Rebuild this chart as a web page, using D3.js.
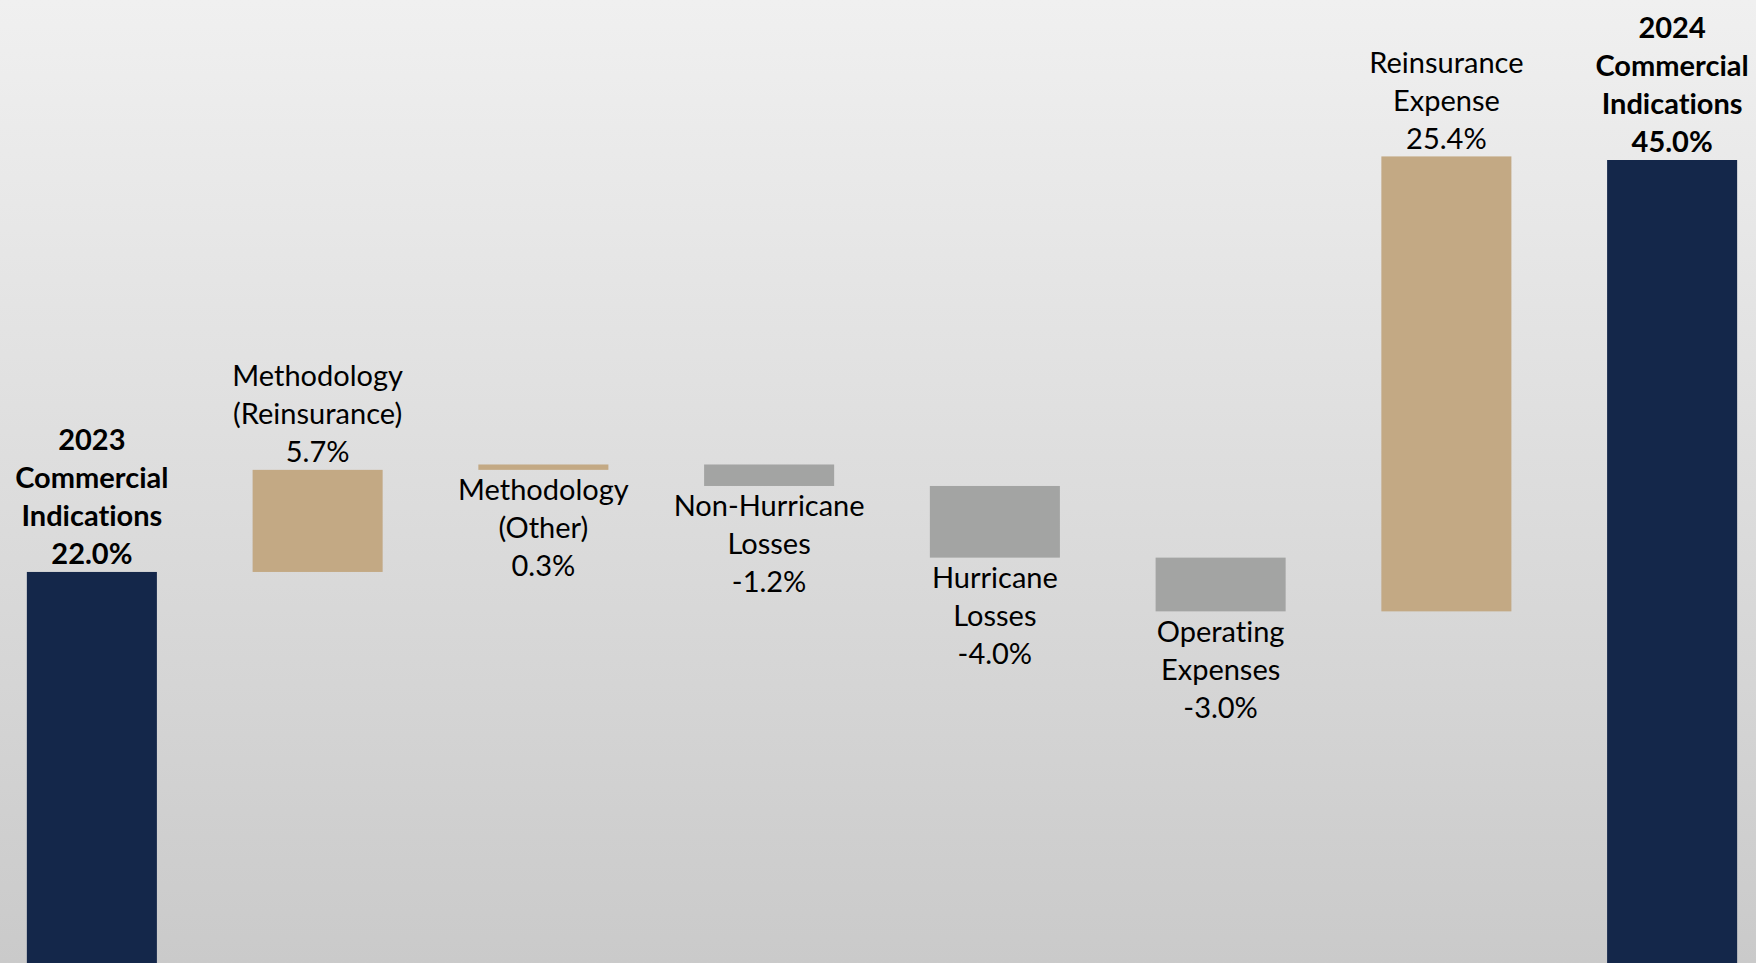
<!DOCTYPE html>
<html>
	<head>
		<meta charset="utf-8">
		<title>Commercial Indications Waterfall</title>
		<style>
			html, body { margin: 0; padding: 0; overflow: hidden; }
			#chart text { font-family: Lato, "Open Sans", sans-serif; fill: #000; font-variant-ligatures: none; }
		</style>
		<script src="https://cdn.jsdelivr.net/npm/d3@7"></script>
	</head>
	<body>
		<svg id="chart"></svg>
		<script>
		// chart data
		var categories = ["2023", "methReins", "methOther", "nonHurr", "hurr", "opExp", "reinsExp", "2024"];
		var labels = [
			["2023", "Commercial", "Indications"],
			["Methodology", "(Reinsurance)"],
			["Methodology", "(Other)"],
			["Non-Hurricane", "Losses"],
			["Hurricane", "Losses"],
			["Operating", "Expenses"],
			["Reinsurance", "Expense"],
			["2024", "Commercial", "Indications"]
		];
		var values = [22.0, 5.7, 0.3, -1.2, -4.0, -3.0, 25.4, 45.0];
		var kinds = ["total", "step", "step", "step", "step", "step", "step", "total"];

		var width = 1756, height = 963;
		var colors = { total: "#14274a", up: "#c3a984", down: "#a3a4a3" };

		// running totals for the waterfall
		var run = 0;
		var bars = values.map(function(v, i){
			var d = { key: categories[i], value: v, kind: kinds[i], lines: labels[i] };
			if (d.kind === "total") { d.y0 = 0; d.y1 = v; run = v; }
			else { d.y0 = run; d.y1 = run + v; run = d.y1; }
			return d;
		});

		var x = d3.scaleBand()
			.domain(categories)
			.range([-21, 1785])
			.paddingInner(0.424)
			.paddingOuter(0.212);

		var y = d3.scaleLinear()
			.domain([0, 45])
			.range([966, 160]);

		var svg = d3.select("#chart")
			.attr("width", width)
			.attr("height", height);

		// background gradient
		var grad = svg.append("defs").append("linearGradient")
			.attr("id", "bg")
			.attr("x1", 0).attr("y1", 0).attr("x2", 0).attr("y2", 1);
		grad.append("stop").attr("offset", "0%").attr("stop-color", "#f0f0f0");
		grad.append("stop").attr("offset", "50%").attr("stop-color", "#dddddd");
		grad.append("stop").attr("offset", "100%").attr("stop-color", "#cacaca");
		svg.append("rect")
			.attr("width", width).attr("height", height)
			.attr("fill", "url(#bg)");

		svg.selectAll("rect.bar")
			.data(bars)
			.enter()
			.append("rect")
			.attr("class", "bar")
			.attr("x", function(d){ return x(d.key); })
			.attr("width", x.bandwidth())
			.attr("y", function(d){ return y(Math.max(d.y0, d.y1)); })
			.attr("height", function(d){ return Math.abs(y(d.y0) - y(d.y1)); })
			.attr("fill", function(d){
				if (d.kind === "total") return colors.total;
				return d.value >= 0 ? colors.up : colors.down;
			});

		// labels: totals and large increases above, the rest below
		var lineH = 38, fontSize = 29;
		bars.forEach(function(d){
			var lines = d.lines.concat([d.value.toFixed(1) + "%"]);
			var above = d.kind === "total" || d.value >= 1;
			var cx = x(d.key) + x.bandwidth() / 2;
			var top = y(Math.max(d.y0, d.y1)), bottom = y(Math.min(d.y0, d.y1));
			var firstY = above ? top - 18 - (lines.length - 1) * lineH : bottom + 20;
			var t = svg.append("text")
				.attr("text-anchor", "middle")
				.attr("font-size", fontSize + "px")
				.attr("font-weight", d.kind === "total" ? "bold" : "normal");
			lines.forEach(function(s, i){
				t.append("tspan")
					.attr("x", cx)
					.attr("y", firstY + i * lineH)
					.attr("dy", "0.35em")
					.text(s);
			});
		});
		</script>
	</body>
</html>
